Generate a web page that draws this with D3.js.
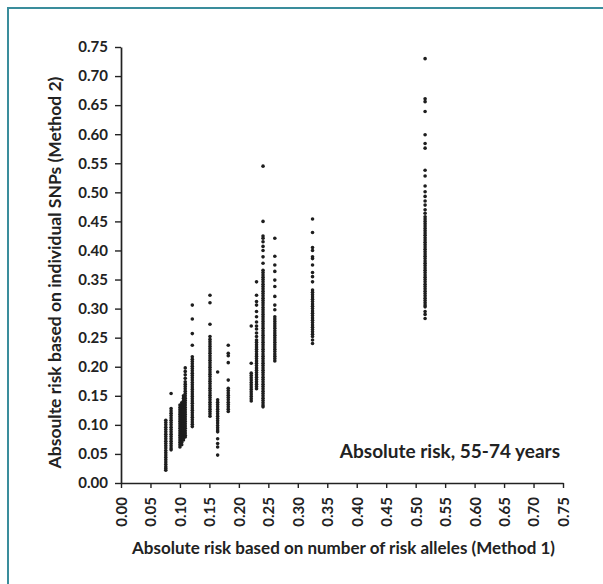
<!DOCTYPE html>
<html>
<head>
<meta charset="utf-8">
<script src="https://cdn.jsdelivr.net/npm/d3@7"></script>
<style>
  html, body { margin: 0; padding: 0; background: #fff; }
  svg { display: block; }
</style>
</head>
<body>
<svg id="chart" width="603" height="584"></svg>
<script>
// ---- Data ----
const tickValues = [0.00,0.05,0.10,0.15,0.20,0.25,0.30,0.35,0.40,0.45,0.50,0.55,0.60,0.65,0.70,0.75];

// Method 1 risk (x) for each column of points
const method1Risk = [0.076, 0.085, 0.100, 0.103, 0.106, 0.109, 0.121, 0.151, 0.164, 0.182, 0.221, 0.230, 0.241, 0.261, 0.325, 0.516];

// Method 2 risk (y) values observed in each column
const col076 = [0.108,0.104,0.100,0.096,0.092,0.088,0.084,0.080,0.076,0.072,0.068,0.064,0.060,0.056,0.052,0.048,0.044,0.040,0.036,0.032,0.028,0.025,0.022];
const col085 = [0.154,0.128,0.124,0.120,0.116,0.112,0.108,0.104,0.100,0.096,0.092,0.088,0.084,0.080,0.076,0.072,0.068,0.064,0.060,0.057];
const col100 = [0.134,0.130,0.126,0.122,0.118,0.114,0.110,0.106,0.102,0.098,0.094,0.090,0.086,0.082,0.078,0.074,0.070,0.066,0.062];
const col103 = [0.138,0.134,0.130,0.126,0.122,0.118,0.114,0.110,0.106,0.102,0.098,0.094,0.090,0.086,0.082,0.078,0.074,0.070,0.066];
const col106 = [0.150,0.146,0.142,0.138,0.134,0.130,0.126,0.122,0.118,0.114,0.110,0.106,0.102,0.098,0.094,0.090,0.086,0.082,0.078,0.074];
const col109 = [0.198,0.192,0.186,0.180,0.174,0.170,0.166,0.162,0.158,0.154,0.150,0.146,0.142,0.138,0.134,0.130,0.126,0.122,0.118,0.114,0.110,0.106,0.102,0.098,0.094,0.090,0.086,0.082,0.079];
const col121 = [0.306,0.282,0.257,0.237,0.217,0.213,0.209,0.205,0.201,0.197,0.193,0.189,0.185,0.181,0.177,0.173,0.169,0.165,0.161,0.157,0.153,0.149,0.145,0.141,0.137,0.133,0.129,0.125,0.121,0.117,0.113,0.109,0.105,0.101,0.097];
const col151 = [0.323,0.310,0.273,0.252,0.247,0.243,0.239,0.235,0.231,0.227,0.223,0.219,0.215,0.211,0.207,0.203,0.199,0.195,0.191,0.187,0.183,0.179,0.175,0.171,0.167,0.163,0.159,0.155,0.151,0.147,0.143,0.139,0.135,0.131,0.127,0.123,0.119,0.115];
const col164 = [0.191,0.143,0.139,0.135,0.131,0.127,0.123,0.119,0.115,0.111,0.107,0.103,0.099,0.095,0.091,0.088,0.076,0.068,0.062,0.048];
const col182 = [0.237,0.223,0.219,0.207,0.177,0.163,0.159,0.155,0.151,0.147,0.143,0.139,0.135,0.131,0.127,0.123];
const col221 = [0.270,0.206,0.189,0.185,0.181,0.177,0.173,0.169,0.165,0.161,0.157,0.153,0.149,0.145,0.141];
const col230 = [0.346,0.323,0.312,0.306,0.295,0.286,0.277,0.270,0.265,0.258,0.252,0.246,0.242,0.238,0.234,0.230,0.226,0.222,0.218,0.214,0.210,0.206,0.202,0.198,0.194,0.190,0.186,0.182,0.178,0.174,0.170,0.166,0.162];
const col241 = [0.545,0.450,0.425,0.421,0.415,0.407,0.400,0.389,0.378,0.366,0.362,0.358,0.354,0.350,0.346,0.342,0.338,0.334,0.330,0.326,0.322,0.318,0.314,0.310,0.306,0.302,0.298,0.294,0.290,0.286,0.282,0.278,0.274,0.270,0.266,0.262,0.258,0.254,0.250,0.246,0.242,0.238,0.234,0.230,0.226,0.222,0.218,0.214,0.210,0.206,0.202,0.198,0.194,0.190,0.186,0.182,0.178,0.174,0.170,0.166,0.162,0.158,0.154,0.150,0.146,0.142,0.138,0.134,0.131];
const col261 = [0.421,0.390,0.375,0.364,0.349,0.338,0.321,0.306,0.298,0.286,0.282,0.278,0.274,0.270,0.266,0.262,0.258,0.254,0.250,0.246,0.242,0.238,0.234,0.230,0.226,0.222,0.218,0.214,0.210];
const col325 = [0.454,0.431,0.405,0.400,0.389,0.386,0.375,0.362,0.355,0.346,0.332,0.328,0.324,0.320,0.316,0.312,0.308,0.304,0.300,0.296,0.292,0.288,0.284,0.280,0.276,0.272,0.268,0.264,0.260,0.256,0.252,0.246,0.240];
const col516 = [0.730,0.661,0.656,0.639,0.599,0.584,0.576,0.538,0.528,0.511,0.501,0.493,0.485,0.478,0.470,0.464,0.458,0.454,0.450,0.446,0.442,0.438,0.434,0.430,0.426,0.422,0.418,0.414,0.410,0.406,0.402,0.398,0.394,0.390,0.386,0.382,0.378,0.374,0.370,0.366,0.362,0.358,0.354,0.350,0.346,0.342,0.338,0.334,0.330,0.326,0.322,0.318,0.314,0.310,0.306,0.303,0.295,0.290,0.283];

const method2Risk = [col076, col085, col100, col103, col106, col109, col121, col151, col164, col182, col221, col230, col241, col261, col325, col516];

const xTitle = "Absolute risk based on number of risk alleles (Method 1)";
const yTitle = "Absoulte risk based on individual SNPs (Method 2)";
const annotation = "Absolute risk, 55-74 years";

// ---- Layout ----
const svg = d3.select("#chart");
const W = 603, H = 584;
const plot = { left: 121, right: 563, top: 47, bottom: 483 };
const font = "Lato, 'Open Sans', sans-serif";
const ink = "#222";

// frame (left + top teal border)
svg.append("path")
  .attr("d", `M8,${H} L8,8 L${W},8`)
  .attr("fill", "none")
  .attr("stroke", "#3a8d9c")
  .attr("stroke-width", 2);

const x = d3.scaleLinear().domain([0, 0.75]).range([plot.left, plot.right]);
const y = d3.scaleLinear().domain([0, 0.75]).range([plot.bottom, plot.top]);

const points = [];
method1Risk.forEach((xv, i) => method2Risk[i].forEach(yv => points.push({ x: xv, y: yv })));

// points
svg.append("g")
  .selectAll("circle")
  .data(points)
  .join("circle")
  .attr("cx", d => x(d.x))
  .attr("cy", d => y(d.y))
  .attr("r", 1.8)
  .attr("fill", "#1e1e1e");

// y axis
const yAxis = svg.append("g")
  .attr("transform", `translate(${plot.left},0)`)
  .call(d3.axisLeft(y).tickValues(tickValues).tickFormat(d3.format(".2f")).tickSize(6).tickSizeOuter(0));
yAxis.select(".domain").attr("stroke", ink).attr("stroke-width", 1.7);
yAxis.selectAll(".tick line").attr("stroke", ink).attr("stroke-width", 1.4);
yAxis.selectAll(".tick text")
  .attr("x", -13)
  .attr("fill", ink)
  .style("font-family", font)
  .style("font-weight", "700")
  .style("font-size", "15px");

// x axis
const xAxis = svg.append("g")
  .attr("transform", `translate(0,${plot.bottom})`)
  .call(d3.axisBottom(x).tickValues(tickValues).tickFormat(d3.format(".2f")).tickSize(5).tickSizeOuter(0));
xAxis.select(".domain").attr("stroke", ink).attr("stroke-width", 1.7);
xAxis.selectAll(".tick line").attr("stroke", ink).attr("stroke-width", 1.4);
xAxis.selectAll(".tick text")
  .attr("transform", "rotate(-90)")
  .attr("x", -14)
  .attr("y", 0)
  .attr("dy", "0.36em")
  .attr("text-anchor", "end")
  .attr("fill", ink)
  .style("font-family", font)
  .style("font-weight", "700")
  .style("font-size", "15px");

// axis titles
svg.append("text")
  .attr("x", 343.5)
  .attr("y", 554)
  .attr("text-anchor", "middle")
  .attr("fill", ink)
  .style("font-family", font)
  .style("font-weight", "700")
  .style("font-size", "17px")
  .text(xTitle);

svg.append("text")
  .attr("transform", `translate(61,272.5) rotate(-90)`)
  .attr("text-anchor", "middle")
  .attr("fill", ink)
  .style("font-family", font)
  .style("font-weight", "700")
  .style("font-size", "17.5px")
  .text(yTitle);

// annotation
svg.append("text")
  .attr("x", 560)
  .attr("y", 458)
  .attr("text-anchor", "end")
  .attr("fill", ink)
  .style("font-family", font)
  .style("font-weight", "700")
  .style("font-size", "19px")
  .text(annotation);
</script>
</body>
</html>
